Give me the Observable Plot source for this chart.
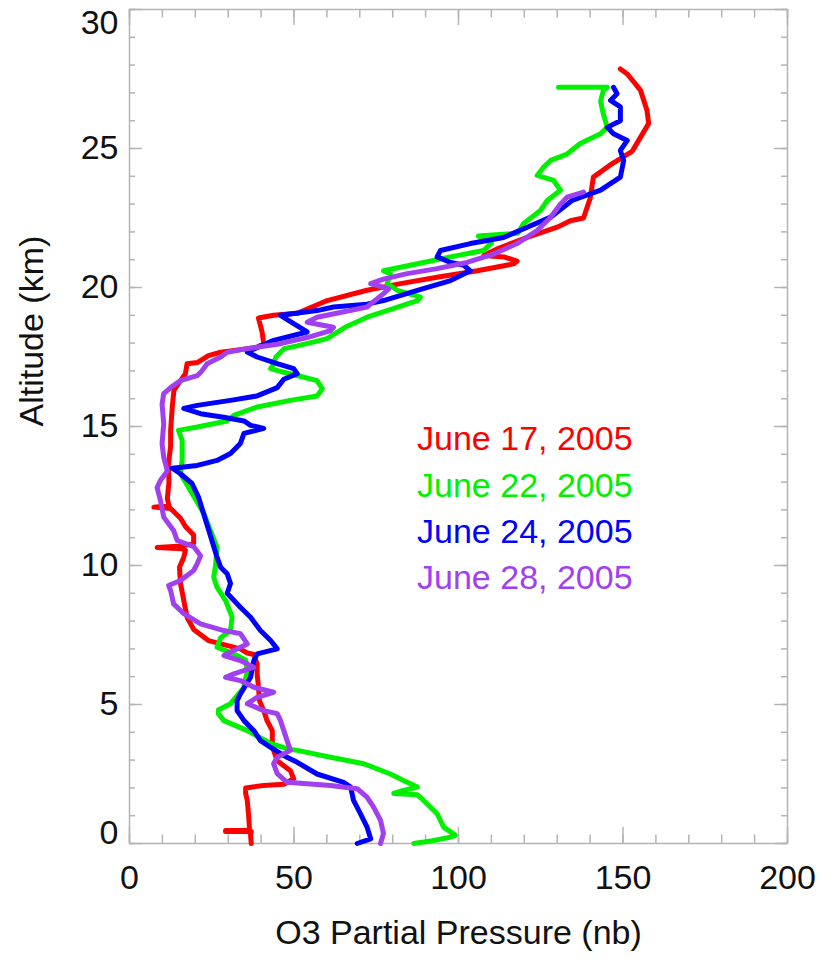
<!DOCTYPE html>
<html><head><meta charset="utf-8">
<script src="https://cdn.jsdelivr.net/npm/d3@7"></script>
<script src="https://cdn.jsdelivr.net/npm/@observablehq/plot@0.6"></script>
<style>body{margin:0;background:#fff} svg{display:block}</style>
</head><body><div id="chart"></div>
<script>
// Ozonesonde profiles: [O3 partial pressure (nb), altitude (km)]
const june17 = [[37,0],[36.8,0.3],[37,0.43],[29.2,0.43],[29.2,0.47],[36.5,0.47],[36.2,1.0],[35.8,1.55],[35.3,1.8],[35.3,2.0],[40.8,2.09],[46.9,2.13],[49.9,2.33],[48.9,2.62],[46.9,2.8],[44.9,2.98],[43.8,3.35],[43.4,3.7],[43.4,4.06],[41.8,4.42],[40.8,4.78],[39.5,5.14],[39.2,5.62],[38.8,6.1],[38.8,6.46],[37.8,6.8],[35.8,6.85],[33.7,7.0],[24,7.3],[19.5,7.7],[17.5,8.14],[16.5,8.74],[15.5,9.35],[15.2,9.94],[16.5,10.3],[17,10.54],[16,10.6],[8.4,10.65],[16,10.7],[19.5,10.8],[19.5,11.1],[17,11.4],[15.5,11.7],[12.5,12.05],[7.4,12.1],[12,12.15],[11.5,12.4],[12,13.0],[11.8,13.6],[12.5,14.3],[12.5,14.86],[13,15.7],[13.5,16.3],[15.5,16.65],[17,16.9],[17.5,17.26],[20.6,17.3],[24,17.55],[27.7,17.67],[30.7,17.72],[38.8,17.85],[40.8,17.98],[40.3,18.4],[39.2,18.9],[43.8,19.0],[51,19.07],[60.1,19.53],[72.2,19.9],[82.4,20.14],[93.5,20.37],[105.7,20.6],[116.8,20.85],[117.8,20.95],[113.8,21.1],[107.7,21.15],[112,21.4],[120.9,21.8],[130,22.17],[134,22.4],[138,22.5],[140,23.2],[141,23.97],[146,24.4],[152.8,24.9],[155.3,25.4],[157.8,25.9],[157.3,26.37],[155.3,27.1],[151.3,27.68],[149.2,27.86]];
const june22 = [[86.4,0],[92,0.1],[97.6,0.23],[99,0.3],[95.5,0.59],[93.5,1.07],[89.4,1.55],[87.5,1.75],[80.3,1.8],[83,1.9],[87.5,2.03],[83.3,2.27],[79.3,2.5],[71.2,2.87],[61.1,3.1],[51,3.35],[48,3.4],[42.9,3.6],[35.8,4.06],[28.7,4.42],[27,4.67],[27,4.8],[30.7,5.03],[34.7,5.6],[35.8,6.2],[35.3,6.6],[31.7,6.82],[26.6,7.06],[27.7,7.4],[30.7,7.66],[31.2,8.14],[29.2,8.74],[26.6,9.22],[25.6,9.58],[26.1,9.94],[26.6,10.65],[22.6,11.87],[18.5,12.7],[15.5,13.3],[16,13.78],[16,14.5],[14.9,14.86],[20.6,14.98],[29.7,15.2],[31.7,15.4],[38.8,15.7],[48.9,15.94],[57,16.1],[58.6,16.36],[57,16.65],[53,16.77],[46.9,16.95],[42.9,17.08],[43.8,17.26],[44.5,17.5],[47,17.8],[51,17.9],[58,18.1],[60,18.16],[66,18.6],[72.2,18.93],[78.3,19.17],[87.5,19.53],[88.4,19.65],[81.4,19.9],[78.3,20.14],[79.3,20.5],[77.2,20.6],[89.4,20.9],[97.6,21.1],[107.6,21.33],[110,21.6],[106,21.85],[118,21.95],[119.8,22.3],[124.9,22.77],[127,23.13],[131,23.5],[128.9,23.85],[123.9,24.03],[125.9,24.33],[128,24.57],[133,24.8],[137,25.18],[143.2,25.53],[145.2,25.76],[144,26.25],[143.2,26.7],[144,27.08],[145.2,27.2],[130.4,27.2]];
const june24 = [[69.2,0],[73.3,0.17],[72.2,0.59],[70.2,1.07],[68.1,1.55],[67.2,2.03],[65.1,2.2],[57,2.5],[51,2.92],[47.9,3.1],[42.9,3.46],[39.8,3.7],[37.8,4.06],[34.8,4.42],[32.7,4.78],[32.7,5.14],[33.7,5.38],[36.8,5.98],[37.8,6.58],[38.8,6.82],[44.9,7.0],[42.9,7.3],[39.8,7.66],[36.8,8.14],[33.7,8.5],[29.7,9.0],[30.7,9.35],[29.7,9.7],[27.7,9.94],[26.6,10.3],[24.1,11.26],[21,12.45],[19,12.95],[15.5,13.3],[13,13.5],[20.6,13.6],[26.6,13.78],[30.7,14.03],[33.7,14.39],[34.8,14.75],[40.8,14.93],[36.8,15.04],[34.8,15.2],[28.6,15.33],[21.6,15.46],[16.5,15.65],[20.6,15.76],[30.7,15.94],[38.8,16.1],[44.9,16.4],[46.9,16.7],[51,16.9],[49.9,17.08],[44.9,17.26],[38.8,17.5],[35.8,17.68],[43.8,18.1],[54,18.4],[49.9,18.7],[45.9,19.0],[57,19.17],[62,19.3],[72.2,19.4],[77.2,19.53],[87.5,19.9],[97.6,20.25],[103.6,20.6],[101.6,20.8],[97.6,20.9],[93.5,21.1],[94.5,21.33],[103.6,21.58],[113.7,21.8],[120.9,22.17],[128,22.53],[134.5,23.13],[143.2,23.5],[149.2,23.97],[150.2,24.57],[149.2,24.93],[151.3,25.29],[147.1,25.53],[145.2,25.76],[149.2,26.0],[149.2,26.5],[146.2,26.73],[148.2,26.97],[147.1,27.2]];
const june28 = [[76.3,0],[77.2,0.36],[76.3,0.83],[74.2,1.31],[72.2,1.67],[69.2,1.97],[61.1,2.09],[47.9,2.2],[44.9,2.51],[43.8,2.87],[44.9,3.1],[48.9,3.35],[47.9,3.7],[46.9,4.06],[45.9,4.42],[44.9,4.67],[40.8,4.78],[35.8,5.03],[38.8,5.26],[43.8,5.44],[37.8,5.62],[33.7,5.86],[29.2,5.98],[31.7,6.1],[37.8,6.34],[33.7,6.58],[28.7,6.76],[31.7,6.94],[35.8,7.18],[33.7,7.55],[28.7,7.66],[21.6,7.9],[16.5,8.27],[13.4,8.62],[12.5,9.1],[11.9,9.28],[15.5,9.46],[19.5,9.82],[20.6,10.07],[21.6,10.35],[19.5,10.68],[14.5,10.9],[13.4,11.26],[10.4,11.74],[9.4,12.34],[8.4,12.8],[9.4,13.06],[11.5,13.4],[10.4,13.9],[9.9,14.38],[10.4,15.1],[9.9,15.8],[10.4,16.18],[12.5,16.4],[15.5,16.65],[20.6,16.83],[22,17.0],[23.6,17.26],[27.7,17.5],[29.7,17.67],[35.8,17.8],[45.9,17.98],[54,18.2],[61.1,18.45],[62,18.57],[54,18.75],[57,18.93],[72.2,19.3],[77.2,19.78],[78.8,19.95],[73.3,20.14],[77.2,20.3],[84.4,20.5],[93.5,20.68],[102.6,20.9],[110.6,21.2],[117.8,21.58],[123.9,22.05],[128,22.53],[131,23.0],[133,23.25],[138,23.43]];

const seriesLabels = ["June 17, 2005", "June 22, 2005", "June 24, 2005", "June 28, 2005"];
const seriesColors = ["#ff0000", "#00f000", "#0000ff", "#a040f0"];
const seriesData = [june17, june22, june24, june28];

const xMinorTicks = d3.range(0, 201, 10);
const xMajorTicks = [0, 50, 100, 150, 200];
const yMinorTicks = d3.range(0, 31, 1);
const yMajorTicks = [0, 5, 10, 15, 20, 25, 30];
const xTitle = "O3 Partial Pressure (nb)";
const yTitle = "Altitude (km)";

const W = 820, H = 961, mt = 9, mb = 118, ml = 129, mr = 33;
const ph = H - mt - mb, pw = W - ml - mr;
const gray = "#b4b4b4";
const fs = 34;

const lineMarks = seriesData.map((pts, i) =>
  Plot.line(pts, {x: d => d[0], y: d => d[1], stroke: seriesColors[i], strokeWidth: 5, strokeLinejoin: "round", strokeLinecap: "round"}));

const legendMarks = seriesLabels.map((lab, i) =>
  Plot.text([lab], {x: () => 87.4, y: () => 14.53 - i * 1.667, text: d => d, fill: seriesColors[i], textAnchor: "start", fontSize: fs}));

const tickStyle = {stroke: gray, strokeWidth: 1.5};

const chart = Plot.plot({
  width: W, height: H,
  marginTop: mt, marginBottom: mb, marginLeft: ml, marginRight: mr,
  style: {fontFamily: "'Liberation Sans', Arial, Helvetica, sans-serif", background: "#fff"},
  x: {domain: [0, 200], axis: null},
  y: {domain: [0, 30], axis: null},
  marks: [
    // inward ticks on all four sides
    Plot.tickX(xMinorTicks, {x: d => d, insetTop: ph - 8.5, ...tickStyle}),
    Plot.tickX(xMajorTicks, {x: d => d, insetTop: ph - 16, ...tickStyle}),
    Plot.tickX(xMinorTicks, {x: d => d, insetBottom: ph - 8.5, ...tickStyle}),
    Plot.tickX(xMajorTicks, {x: d => d, insetBottom: ph - 16, ...tickStyle}),
    Plot.tickY(yMinorTicks, {y: d => d, insetRight: pw - 6, ...tickStyle}),
    Plot.tickY(yMajorTicks, {y: d => d, insetRight: pw - 13, ...tickStyle}),
    Plot.tickY(yMinorTicks, {y: d => d, insetLeft: pw - 6, ...tickStyle}),
    Plot.tickY(yMajorTicks, {y: d => d, insetLeft: pw - 13, ...tickStyle}),
    Plot.frame({stroke: gray, strokeWidth: 1.5}),
    ...lineMarks,
    ...legendMarks,
    // tick labels
    Plot.text(xMajorTicks, {x: d => d, frameAnchor: "bottom", dy: 45, text: d => String(d), fontSize: fs, fill: "#111"}),
    Plot.text(yMajorTicks.filter(d => d > 0 && d < 30), {y: d => d, frameAnchor: "left", dx: -11, textAnchor: "end", text: d => String(d), fontSize: fs, fill: "#111"}),
    Plot.text(yMajorTicks.filter(d => d === 30), {y: d => d, frameAnchor: "left", dx: -11, textAnchor: "end", lineAnchor: "top", text: d => String(d), fontSize: fs, fill: "#111"}),
    Plot.text(yMajorTicks.filter(d => d === 0), {y: d => d, frameAnchor: "left", dx: -11, textAnchor: "end", lineAnchor: "bottom", text: d => String(d), fontSize: fs, fill: "#111"}),
    // axis titles
    Plot.text([xTitle], {frameAnchor: "bottom", dy: 100, text: d => d, fontSize: fs, fill: "#111"}),
    Plot.text([yTitle], {frameAnchor: "left", dx: -97, rotate: -90, text: d => d, fontSize: fs, fill: "#111"})
  ]
});
document.getElementById("chart").appendChild(chart);
</script>
</body></html>
